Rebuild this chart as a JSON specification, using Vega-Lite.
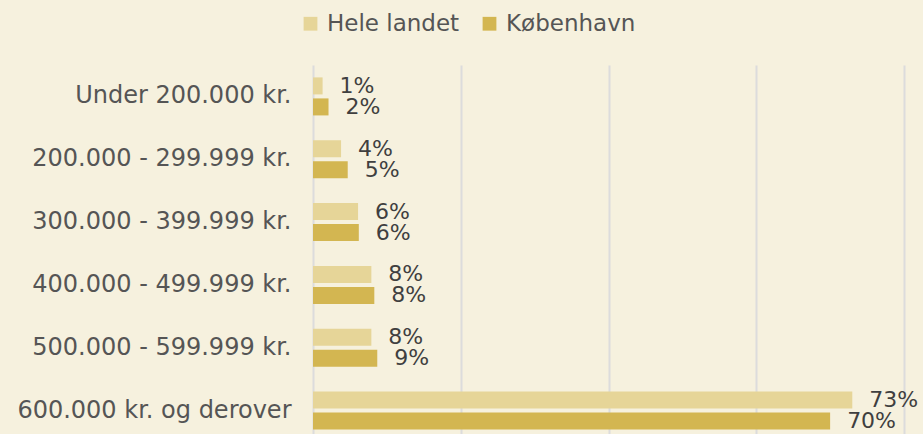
{
  "$schema": "https://vega.github.io/schema/vega-lite/v6.json",
  "autosize": "none",
  "padding": {"left": 313, "top": 65, "right": 19, "bottom": 0},
  "width": 591,
  "height": 377,
  "background": "#f6f1de",
  "config": {
    "view": {"stroke": null},
    "font": "DejaVu Sans"
  },
  "data": {
    "values": [
      {"kategori": "Under 200.000 kr.", "serie": "Hele landet", "andel": 0.013},
      {"kategori": "Under 200.000 kr.", "serie": "København", "andel": 0.021},
      {"kategori": "200.000 - 299.999 kr.", "serie": "Hele landet", "andel": 0.038},
      {"kategori": "200.000 - 299.999 kr.", "serie": "København", "andel": 0.047},
      {"kategori": "300.000 - 399.999 kr.", "serie": "Hele landet", "andel": 0.061},
      {"kategori": "300.000 - 399.999 kr.", "serie": "København", "andel": 0.062},
      {"kategori": "400.000 - 499.999 kr.", "serie": "Hele landet", "andel": 0.079},
      {"kategori": "400.000 - 499.999 kr.", "serie": "København", "andel": 0.083},
      {"kategori": "500.000 - 599.999 kr.", "serie": "Hele landet", "andel": 0.079},
      {"kategori": "500.000 - 599.999 kr.", "serie": "København", "andel": 0.087},
      {"kategori": "600.000 kr. og derover", "serie": "Hele landet", "andel": 0.73},
      {"kategori": "600.000 kr. og derover", "serie": "København", "andel": 0.70}
    ]
  },
  "encoding": {
    "y": {
      "field": "kategori",
      "type": "nominal",
      "sort": null,
      "scale": {"paddingInner": 0.395, "paddingOuter": 0.1975},
      "axis": {
        "title": null,
        "ticks": false,
        "domain": false,
        "labelFontSize": 24,
        "labelColor": "#555555",
        "labelPadding": 22,
        "labelLimit": 320
      }
    },
    "yOffset": {
      "field": "serie",
      "type": "nominal",
      "sort": ["Hele landet", "København"],
      "scale": {"paddingInner": 0.19, "paddingOuter": 0}
    },
    "x": {
      "field": "andel",
      "type": "quantitative",
      "scale": {"domain": [0, 0.8], "nice": false},
      "axis": {
        "title": null,
        "labels": false,
        "ticks": false,
        "domain": false,
        "values": [0, 0.2, 0.4, 0.6, 0.8],
        "grid": true,
        "gridColor": "#dcdcdc",
        "gridWidth": 2
      }
    }
  },
  "layer": [
    {
      "mark": {"type": "bar"},
      "encoding": {
        "color": {
          "field": "serie",
          "type": "nominal",
          "scale": {"domain": ["Hele landet", "København"], "range": ["#e6d598", "#d3b651"]},
          "legend": {
            "title": null,
            "orient": "none",
            "direction": "horizontal",
            "legendX": -14,
            "legendY": -53,
            "symbolType": "square",
            "symbolSize": 190,
            "symbolStrokeWidth": 0,
            "labelFontSize": 23,
            "labelColor": "#555555",
            "labelOffset": 5,
            "columnPadding": 18
          }
        }
      }
    },
    {
      "mark": {"type": "text", "align": "left", "baseline": "middle", "dx": 17, "fontSize": 22, "color": "#3f3f3f"},
      "encoding": {
        "text": {"field": "andel", "type": "quantitative", "format": ".0%"}
      }
    }
  ]
}
